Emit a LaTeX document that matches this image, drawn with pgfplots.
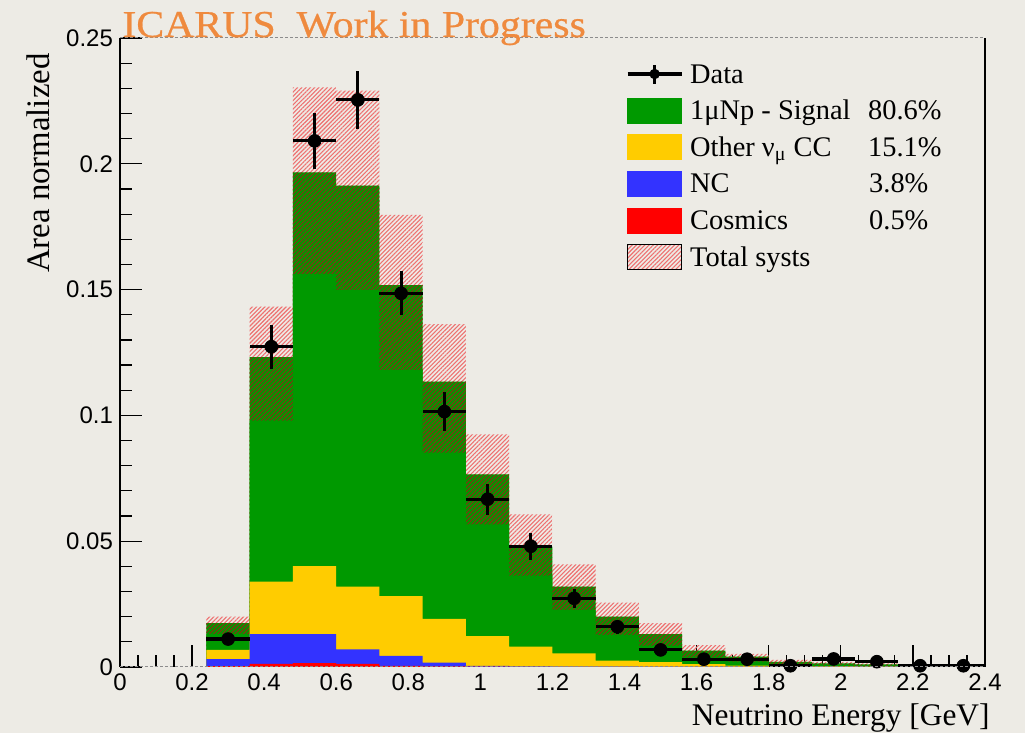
\documentclass[border=0pt]{standalone}
\usepackage{fontspec}
\setmainfont{Liberation Serif}
\setsansfont{Liberation Sans}
\newfontfamily\titfont[FakeBold=0.6]{Liberation Serif}
\usepackage{pgfplots}
\pgfplotsset{compat=1.18}
\usepackage{pgfplotstable}
\usetikzlibrary{patterns.meta}
\definecolor{bg}{HTML}{EDEBE5}
\definecolor{sig}{HTML}{009900}
\definecolor{oth}{HTML}{FFCC00}
\definecolor{nc}{HTML}{3333FF}
\definecolor{cos}{HTML}{FF0000}
\definecolor{tit}{HTML}{EF8A3E}
\definecolor{pinkhatch}{HTML}{EE7070}
\definecolor{darkhatch}{HTML}{7A3A10}

% cumulative stack tops per bin (left edge x); lo/up = syst band
\pgfplotstableread{
x    red    blue   yel    tot    lo     up
0.24 0.0003 0.0031 0.0068 0.0174 0.0131 0.0200
0.36 0.0012 0.0131 0.0339 0.1232 0.0979 0.1432
0.48 0.0015 0.0131 0.0401 0.1966 0.1561 0.2304
0.60 0.0012 0.0070 0.0319 0.1913 0.1498 0.2291
0.72 0.0004 0.0044 0.0282 0.1518 0.1180 0.1797
0.84 0.0002 0.0017 0.0191 0.1134 0.0852 0.1363
0.96 0.0001 0.0004 0.0123 0.0766 0.0567 0.0925
1.08 0.0000 0.0002 0.0081 0.0478 0.0363 0.0607
1.20 0.0000 0.0001 0.0054 0.0319 0.0227 0.0408
1.32 0.0000 0.0001 0.0025 0.0200 0.0127 0.0256
1.44 0.0000 0.0000 0.0019 0.0131 0.0085 0.0174
1.56 0.0000 0.0000 0.0011 0.0065 0.0038 0.0087
1.68 0.0000 0.0000 0.0005 0.0041 0.0021 0.0052
1.80 0.0000 0.0000 0.0003 0.0020 0.0010 0.0028
1.92 0.0000 0.0000 0.0002 0.0014 0.0007 0.0020
2.04 0.0000 0.0000 0.0001 0.0010 0.0005 0.0014
2.16 0.0000 0.0000 0.0001 0.0005 0.0002 0.0008
2.28 0.0000 0.0000 0.0000 0.0004 0.0002 0.0006
2.40 0.0000 0.0000 0.0000 0.0004 0.0002 0.0006
}\mc

\pgfplotstableread{
x    y      ex   ey
0.30 0.0111 0.06 0.0015
0.42 0.1273 0.06 0.0087
0.54 0.2091 0.06 0.0110
0.66 0.2254 0.06 0.0115
0.78 0.1485 0.06 0.0087
0.90 0.1015 0.06 0.0078
1.02 0.0667 0.06 0.0061
1.14 0.0480 0.06 0.0053
1.26 0.0273 0.06 0.0038
1.38 0.0160 0.06 0.0028
1.50 0.0068 0.06 0.0018
1.62 0.0031 0.06 0.0012
1.74 0.0031 0.06 0.0012
1.86 0.0005 0.06 0.0005
1.98 0.0032 0.06 0.0012
2.10 0.0021 0.06 0.0010
2.22 0.0005 0.06 0.0005
2.34 0.0005 0.06 0.0005
}\data

\tikzset{
  hatchpink/.style={pattern={Lines[angle=45,distance=1.5pt,line width=0.55pt]}, pattern color=pinkhatch},
  hatchdark/.style={pattern={Lines[angle=45,distance=1.5pt,line width=0.55pt]}, pattern color=darkhatch}}

\begin{document}
\begin{tikzpicture}
\fill[bg] (-60pt,-33pt) rectangle (452.5pt,333.5pt);
\begin{axis}[
  scale only axis, width=432.5pt, height=314.5pt,
  xmin=0, xmax=2.4, ymin=0, ymax=0.25,
  axis line style={draw=none},
  clip=false,
  tick align=inside, tick pos=left,
  xtick={0,0.2,0.4,0.6,0.8,1,1.2,1.4,1.6,1.8,2,2.2,2.4},
  xticklabels={0,0.2,0.4,0.6,0.8,1,1.2,1.4,1.6,1.8,2,2.2,2.4},
  ytick={0,0.05,0.1,0.15,0.2,0.25},
  yticklabels={0,0.05,0.1,0.15,0.2,0.25},
  minor x tick num=3, minor y tick num=4,
  major tick length=11pt, minor tick length=6pt,
  tick style={black, line width=0.6pt},
  ticklabel style={font=\sffamily\fontsize{12}{12}\selectfont},
  legend style={draw=none, fill=none, inner sep=0pt, outer sep=0pt,
    at={(0.585,0.9634)}, anchor=north west, row sep=5.3pt, column sep=3.5pt,
    font=\fontsize{14.2}{16}\selectfont,
    nodes={inner sep=0pt, text height=11pt, text depth=2pt}},
  legend cell align=left,
]
\addlegendimage{legend image code/.code={
  \draw[black, line width=1.6pt] (0pt,0pt) -- (27pt,0pt);
  \draw[black, line width=1.6pt] (13.5pt,-4.75pt) -- (13.5pt,4.75pt);
  \fill[black] (13.5pt,0pt) circle (2.4pt);}}
\addlegendentry{Data}
\addlegendimage{legend image code/.code={\fill[sig] (0pt,-6.25pt) rectangle (27pt,6.25pt);}}
\addlegendentry{\makebox[89pt][l]{1μNp - Signal}80.6\%}
\addlegendimage{legend image code/.code={\fill[oth] (0pt,-6.25pt) rectangle (27pt,6.25pt);}}
\addlegendentry{\makebox[89pt][l]{Other ν\textsubscript{μ} CC}15.1\%}
\addlegendimage{legend image code/.code={\fill[nc] (0pt,-6.25pt) rectangle (27pt,6.25pt);}}
\addlegendentry{\makebox[89.5pt][l]{NC}3.8\%}
\addlegendimage{legend image code/.code={\fill[cos] (0pt,-6.25pt) rectangle (27pt,6.25pt);}}
\addlegendentry{\makebox[89.5pt][l]{Cosmics}0.5\%}
\addlegendimage{legend image code/.code={\fill[hatchpink] (0pt,-6.25pt) rectangle (27pt,6.25pt);}}
\addlegendentry{Total systs}

% systematic band hatch over the background, from 0 up to upper edge
\addplot[forget plot, const plot, draw=none, hatchpink] table[x=x,y=up]{\mc} \closedcycle;
% signal (total MC)
\addplot[forget plot, const plot, draw=none, fill=sig] table[x=x,y=tot]{\mc} \closedcycle;
% systematic band hatch over the stack
\addplot[forget plot, const plot, draw=none, hatchdark] table[x=x,y=tot]{\mc} \closedcycle;
% solid signal below the lower band edge
\addplot[forget plot, const plot, draw=none, fill=sig] table[x=x,y=lo]{\mc} \closedcycle;
\addplot[forget plot, const plot, draw=none, fill=oth] table[x=x,y=yel]{\mc} \closedcycle;
\addplot[forget plot, const plot, draw=none, fill=nc] table[x=x,y=blue]{\mc} \closedcycle;
\addplot[forget plot, const plot, draw=none, fill=cos] table[x=x,y=red]{\mc} \closedcycle;

\addplot[forget plot, only marks, mark=*, mark size=3.2pt, black,
  error bars/.cd, x dir=both, x explicit, y dir=both, y explicit,
  error mark=none, error bar style={line width=1.6pt, black}]
  table[x=x, y=y, x error=ex, y error=ey] {\data};
\end{axis}
\draw[black, line width=0.6pt] (0,0) -- (0,314.5pt);
\draw[black, line width=0.6pt] (432.5pt,0) -- (432.5pt,314.5pt);
\draw[black!45, line width=0.5pt, dash pattern=on 1.5pt off 1pt] (0,314.5pt) -- (432.5pt,314.5pt);
\draw[black!45, line width=0.5pt, dash pattern=on 1.5pt off 1pt] (0,0) -- (432.5pt,0);
\node[anchor=base west, text=tit, font=\titfont\fontsize{19}{19}\selectfont, xscale=1.1, inner sep=0pt] at (1pt,315pt) {ICARUS\ \ Work in Progress};
\node[anchor=base east, rotate=90, font=\fontsize{16.4}{16.4}\selectfont, inner sep=0pt] at (-35pt,307pt) {Area normalized};
\node[anchor=base east, font=\fontsize{15.7}{15.7}\selectfont, inner sep=0pt] at (435pt,-29.5pt) {Neutrino Energy [GeV]};
\end{tikzpicture}
\end{document}
